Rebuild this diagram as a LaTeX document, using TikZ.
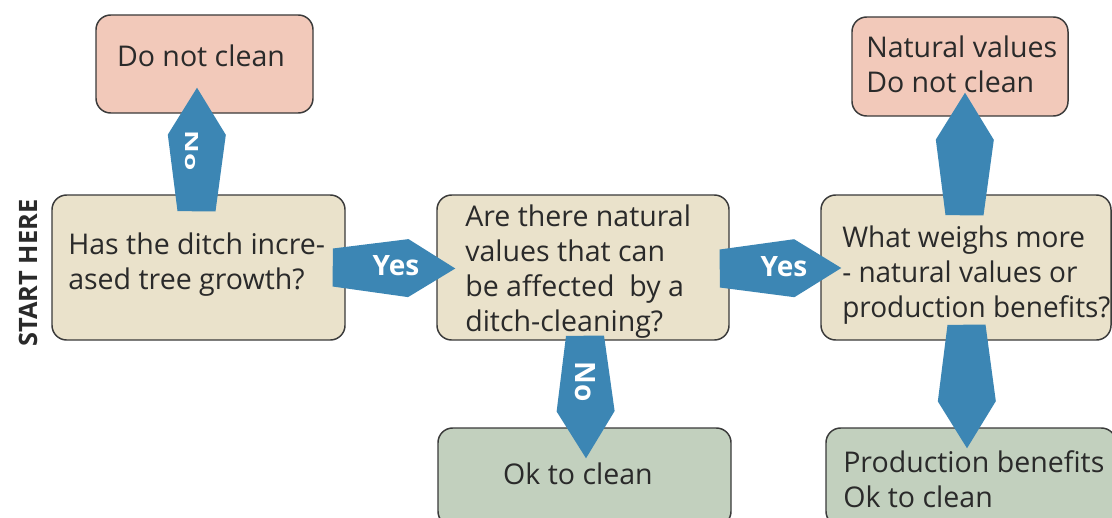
\documentclass[tikz,border=0pt]{standalone}
\usepackage{fontspec}
\setmainfont{Open Sans}
\usetikzlibrary{calc}
\definecolor{salmon}{HTML}{F2C9BA}
\definecolor{beige}{HTML}{EAE2CB}
\definecolor{sage}{HTML}{C2D0BE}
\definecolor{arrowblue}{HTML}{3C86B4}
\definecolor{ink}{HTML}{2A2A2A}
\definecolor{edge}{HTML}{3A3A3A}
\tikzset{
  box/.style={draw=edge, line width=1.1pt, rounded corners=11pt, inner sep=0pt},
  qbox/.style={box, fill=beige, minimum height=108.75pt},
  stopbox/.style={box, fill=salmon, minimum height=73.5pt},
  okbox/.style={box, fill=sage, minimum height=73.5pt},
  boxtext/.style={text=ink, font=\fontsize{21.4}{26.25}\selectfont, align=left, inner sep=0pt},
  arrowlabel/.style={text=white, font=\bfseries\fontsize{21}{24}\selectfont, inner sep=0pt},
  starttext/.style={text=ink, font=\bfseries\fontsize{19}{22}\selectfont, inner sep=0pt},
  blockfill/.style={fill=arrowblue},
}
% #1 = base coordinate, #2 = tip coordinate
\newcommand\blockarrow[2]{%
  \fill[blockfill] ($(#1)!14.25pt!90:(#2)$)
    -- ($(#2)!35.25pt!(#1)!21.75pt!-90:(#1)$)
    -- (#2)
    -- ($(#2)!35.25pt!(#1)!21.75pt!90:(#1)$)
    -- ($(#1)!14.25pt!-90:(#2)$) -- cycle;}
\begin{document}
\begin{tikzpicture}[x=0.75pt, y=-0.75pt]
\useasboundingbox (0,0) rectangle (1112,517);
\clip (0,0) rectangle (1112,517);
\fill[white] (0,0) rectangle (1112,517);

% boxes
\node[stopbox, minimum width=162.75pt] (dnc) at (204.5,64) {};
\node[stopbox, minimum width=162pt, minimum height=74.25pt] (nv) at (960,66.5) {};
\node[qbox, minimum width=219.75pt] (start) at (198.5,267.5) {};
\node[qbox, minimum width=219pt] (mid) at (583,267.5) {};
\node[qbox, minimum width=217.5pt] (right) at (966,267.5) {};
\node[okbox, minimum width=219.75pt] (ok) at (584.5,477) {};
\node[okbox, minimum width=217.5pt] (prod) at (971,477) {};

% box texts
\node[boxtext] (t-dnc) at (201,56) {Do not clean};
\node[boxtext, anchor=north west] (t-nv) at (866,36) {Natural values\\Do not clean};
\node[boxtext, anchor=north west] (t-start) at (68,233) {Has the ditch incre-\\ased tree growth?};
\node[boxtext, anchor=north west] (t-mid) at (465,205) {Are there natural\\values that can\\be affected\ \ by a\\ditch-cleaning?};
\node[boxtext, anchor=north west, xscale=0.98] (t-right) at (842,226) {What weighs more\\- natural values or\\production benefits?};
\node[boxtext] (t-ok) at (578,474) {Ok to clean};
\node[boxtext, anchor=north west] (t-prod) at (843,450) {Production benefits\\Ok to clean};

\node[starttext, rotate=90] (starthere) at (28,273) {START HERE};

% arrow ends
\coordinate (a1s) at ($(start.north)+(-2,17)$);
\coordinate (a1e) at ($(dnc.south)+(-7.5,-26)$);
\coordinate (a2s) at ($(start.east)+(-13,0)$);
\coordinate (a2e) at ($(mid.west)+(19,1)$);
\coordinate (a3s) at ($(mid.east)+(-10,1)$);
\coordinate (a3e) at ($(right.west)+(21,0.5)$);
\coordinate (a4s) at ($(mid.south)+(2,-5)$);
\coordinate (a4e) at ($(ok.north)+(1.5,31)$);
\coordinate (a5s) at ($(right.north)+(-1.5,21)$);
\coordinate (a5e) at ($(nv.south)+(5,-24)$);
\coordinate (a6s) at ($(right.south)+(0.5,-16)$);
\coordinate (a6e) at ($(prod.north)+(-4,21)$);

\blockarrow{a1s}{a1e}
\blockarrow{a2s}{a2e}
\blockarrow{a3s}{a3e}
\blockarrow{a4s}{a4e}
\blockarrow{a5s}{a5e}
\blockarrow{a6s}{a6e}

% arrow labels
\node[arrowlabel, rotate=-90, yscale=0.65] (no1) at (192,151) {No};
\node[arrowlabel] (yes1) at (396,266) {Yes};
\node[arrowlabel] (yes2) at (784,267) {Yes};
\node[arrowlabel, rotate=-90] (no2) at (585,382) {No};
\end{tikzpicture}
\end{document}
